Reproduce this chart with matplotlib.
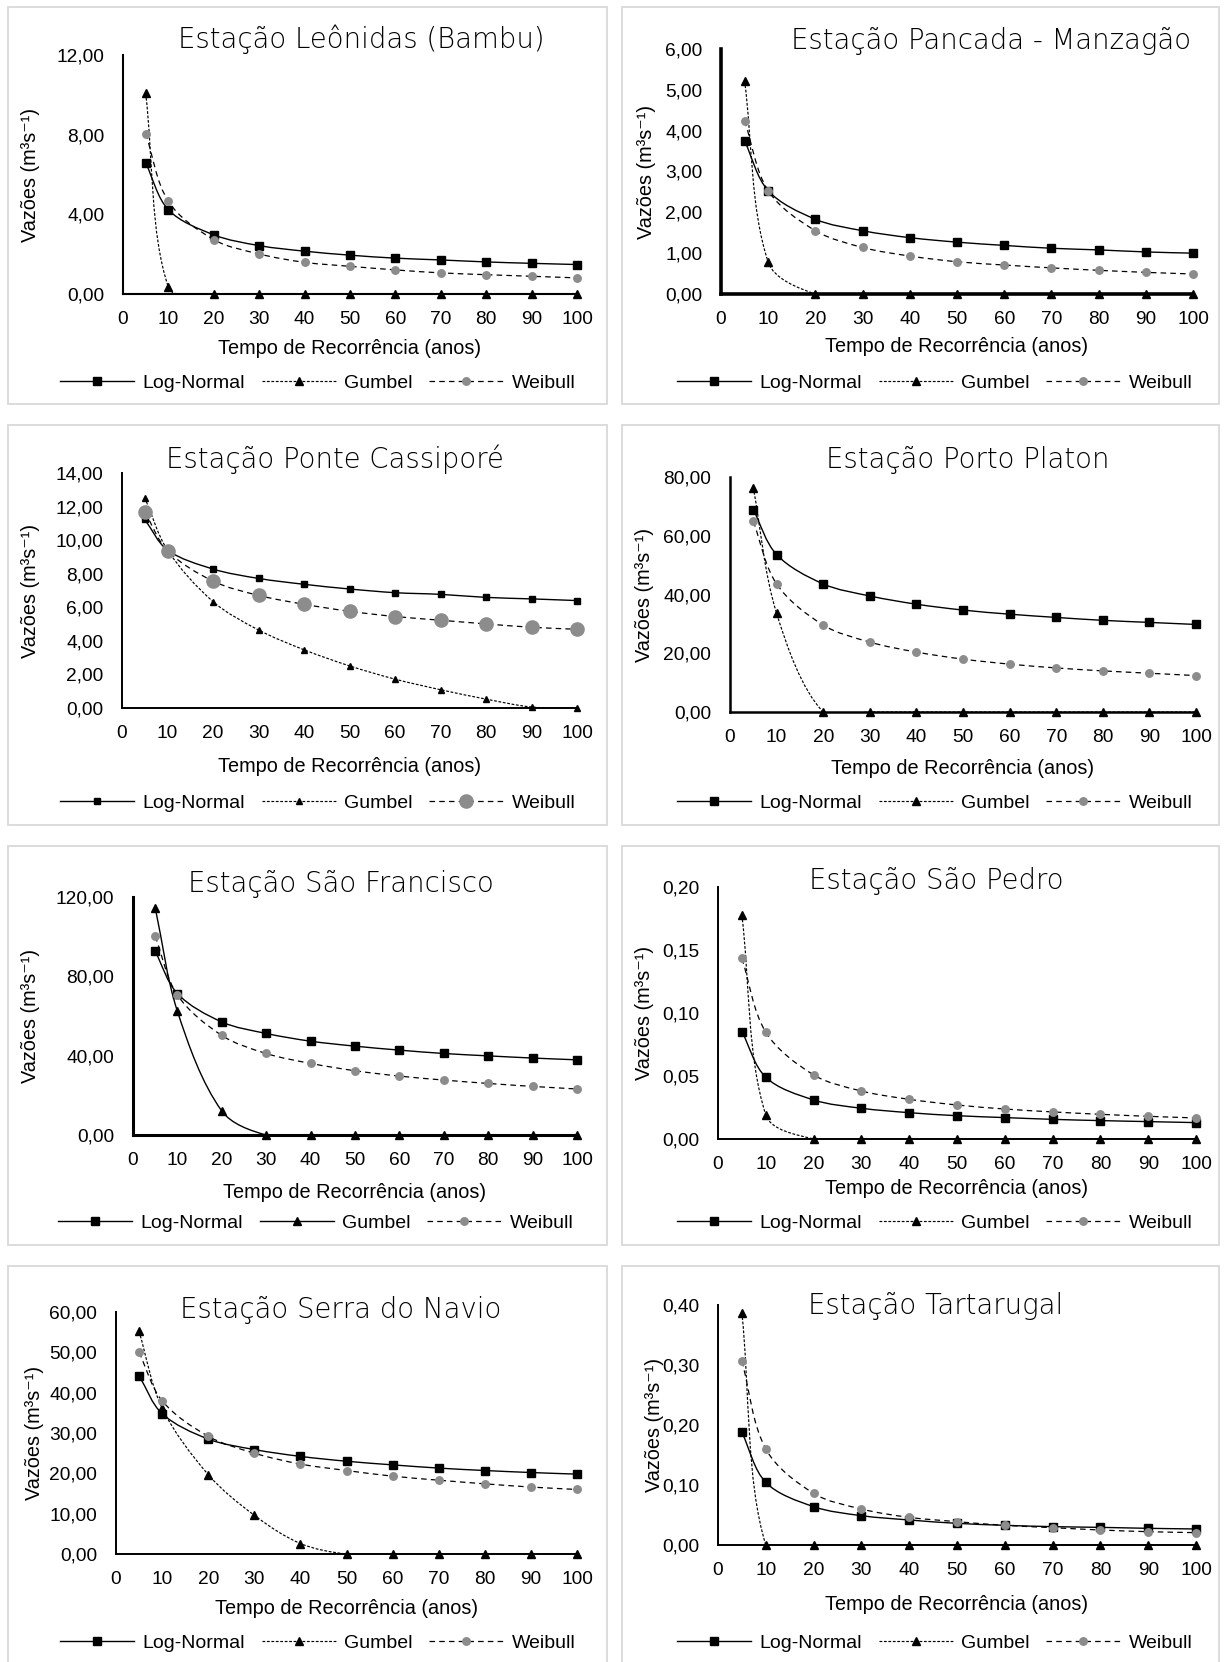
import numpy as np
import matplotlib
matplotlib.use("Agg")
import matplotlib.pyplot as plt
from matplotlib.path import Path
from matplotlib.patches import PathPatch, Rectangle
from matplotlib.lines import Line2D

plt.rcParams['lines.scale_dashes'] = False
SANS = ['Liberation Sans', 'DejaVu Sans']
TITLE_FONT = ['DejaVu Sans']

# ---------------- data ----------------
T = [5, 10, 20, 30, 40, 50, 60, 70, 80, 90, 100]

titles = ["Estação Leônidas (Bambu)", "Estação Pancada - Manzagão",
          "Estação Ponte Cassiporé", "Estação Porto Platon",
          "Estação São Francisco", "Estação São Pedro",
          "Estação Serra do Navio", "Estação Tartarugal"]

leonidas_ln = [6.58, 4.23, 2.97, 2.43, 2.15, 1.95, 1.80, 1.71, 1.61, 1.54, 1.48]
leonidas_gu = [10.07, 0.34, 0, 0, 0, 0, 0, 0, 0, 0, 0]
leonidas_we = [8.05, 4.65, 2.73, 2.01, 1.59, 1.39, 1.21, 1.06, 0.97, 0.89, 0.81]

pancada_ln = [3.75, 2.53, 1.83, 1.55, 1.38, 1.27, 1.19, 1.12, 1.08, 1.03, 1.00]
pancada_gu = [5.22, 0.78, 0, 0, 0, 0, 0, 0, 0, 0, 0]
pancada_we = [4.24, 2.53, 1.55, 1.14, 0.93, 0.79, 0.71, 0.64, 0.58, 0.53, 0.49]

cassipore_ln = [11.23, 9.41, 8.28, 7.72, 7.37, 7.09, 6.87, 6.77, 6.59, 6.50, 6.40]
cassipore_gu = [12.53, 9.41, 6.34, 4.65, 3.47, 2.51, 1.72, 1.09, 0.53, 0.06, 0.0]
cassipore_we = [11.68, 9.37, 7.56, 6.71, 6.18, 5.76, 5.45, 5.23, 5.01, 4.81, 4.69]

platon_ln = [68.9, 53.6, 43.6, 39.5, 36.7, 34.7, 33.3, 32.2, 31.2, 30.5, 29.8]
platon_gu = [76.4, 33.6, 0, 0, 0, 0, 0, 0, 0, 0, 0]
platon_we = [64.9, 43.6, 29.6, 23.8, 20.4, 18.0, 16.3, 15.0, 14.0, 13.2, 12.4]

francisco_ln = [92.6, 71.3, 57.0, 51.2, 47.3, 44.8, 42.8, 41.1, 39.9, 38.8, 37.9]
francisco_gu = [114.6, 62.4, 12.1, 0, 0, 0, 0, 0, 0, 0, 0]
francisco_we = [100.2, 70.6, 50.2, 41.1, 36.1, 32.4, 29.7, 27.7, 26.0, 24.5, 23.2]

pedro_ln = [0.0853, 0.0490, 0.0310, 0.0244, 0.0209, 0.0185, 0.0170, 0.0156, 0.0146, 0.0138, 0.0130]
pedro_gu = [0.1777, 0.0191, 0, 0, 0, 0, 0, 0, 0, 0, 0]
pedro_we = [0.1433, 0.0848, 0.0509, 0.0381, 0.0315, 0.0270, 0.0238, 0.0215, 0.0196, 0.0180, 0.0167]

navio_ln = [44.2, 34.8, 28.5, 25.9, 24.2, 23.0, 22.1, 21.3, 20.7, 20.2, 19.8]
navio_gu = [55.2, 36.2, 19.7, 9.6, 2.6, 0, 0, 0, 0, 0, 0]
navio_we = [50.0, 38.0, 29.2, 25.0, 22.3, 20.7, 19.3, 18.3, 17.4, 16.6, 16.0]

tarta_ln = [0.1878, 0.1044, 0.0639, 0.0489, 0.0417, 0.0361, 0.0328, 0.0306, 0.0294, 0.0278, 0.0267]
tarta_gu = [0.387, 0, 0, 0, 0, 0, 0, 0, 0, 0, 0]
tarta_we = [0.3067, 0.160, 0.0861, 0.060, 0.0461, 0.0389, 0.0328, 0.0289, 0.0250, 0.0222, 0.0206]

series = [(leonidas_ln, leonidas_gu, leonidas_we),
          (pancada_ln, pancada_gu, pancada_we),
          (cassipore_ln, cassipore_gu, cassipore_we),
          (platon_ln, platon_gu, platon_we),
          (francisco_ln, francisco_gu, francisco_we),
          (pedro_ln, pedro_gu, pedro_we),
          (navio_ln, navio_gu, navio_we),
          (tarta_ln, tarta_gu, tarta_we)]

y_max = [12, 6, 14, 80, 120, 0.20, 60, 0.40]
y_step = [4, 1, 2, 20, 40, 0.05, 10, 0.10]
legend_labels = ["Log-Normal", "Gumbel", "Weibull"]

# ---------------- layout (pixels) ----------------
W, H = 1225, 1662
# x0, x100, ytop, ybot of plot area
axes_px = [(123, 577, 55, 294), (721, 1193, 49, 294),
           (122, 577, 473, 708), (730, 1196, 477, 712),
           (133, 577, 897, 1135), (718, 1196, 887, 1139),
           (116, 577, 1312, 1554), (718, 1196, 1305, 1545)]
# title centre x, baseline y
title_px = [(361, 48), (991, 49), (335, 468), (968, 468),
            (341, 892), (936, 889), (341, 1318), (936, 1314)]
ylab_x = [30, 646, 31, 645, 31, 645, 34, 655]
xlab_y = [348, 347, 767, 768, 1193, 1188, 1608, 1605]
leg_px = [(318, 383), (935, 383), (318, 803), (935, 803),
          (316, 1223), (935, 1223), (318, 1643), (935, 1643)]
spine_lw = [1.5, 2.6, 1.4, 1.8, 2.2, 1.4, 1.4, 1.4]
boxes_x = [(8, 607), (622, 1219)]
boxes_y = [(7, 404), (425, 825), (846, 1245), (1266, 1700)]

FS_TICK = 13.8
FS = 14.3
FS_LEG = 14.0
GRAY = '#8c8c8c'

fig = plt.figure(figsize=(W / 100, H / 100), dpi=100)
fig.patch.set_facecolor('white')

# panel frames
for (by0, by1) in boxes_y:
    for (bx0, bx1) in boxes_x:
        fig.patches.append(Rectangle((bx0 / W, 1 - by1 / H), (bx1 - bx0) / W, (by1 - by0) / H,
                                     transform=fig.transFigure, fill=False,
                                     edgecolor='#d9d9d9', linewidth=1.3, zorder=0))


def smooth(ax, xs, ys, **kw):
    tr = ax.transData
    p = tr.transform(np.column_stack([xs, ys]).astype(float))
    n = len(p)
    verts = [p[0]]
    codes = [Path.MOVETO]
    for i in range(n - 1):
        p0 = p[i - 1] if i > 0 else p[i]
        p1, p2 = p[i], p[i + 1]
        p3 = p[i + 2] if i + 2 < n else p[i + 1]
        d01 = np.linalg.norm(p1 - p0)
        d12 = np.linalg.norm(p2 - p1)
        d23 = np.linalg.norm(p3 - p2)
        t1 = (p2 - p0) / (d01 + d12) if d01 + d12 > 0 else np.zeros(2)
        t2 = (p3 - p1) / (d12 + d23) if d12 + d23 > 0 else np.zeros(2)
        c1 = p1 + t1 * d12 / 3
        c2 = p2 - t2 * d12 / 3
        verts += [c1, c2, p2]
        codes += [Path.CURVE4] * 3
    verts = tr.inverted().transform(np.array(verts))
    patch = PathPatch(Path(verts, codes), fill=False, transform=ax.transData,
                      clip_on=True, **kw)
    ax.add_patch(patch)


for k in range(8):
    x0, x1, yt, yb = axes_px[k]
    ax = fig.add_axes([x0 / W, 1 - yb / H, (x1 - x0) / W, (yb - yt) / H])
    ax.set_xlim(0, 100)
    ax.set_ylim(0, y_max[k])
    ax.patch.set_alpha(0)
    for s in ['top', 'right']:
        ax.spines[s].set_visible(False)
    for s in ['left', 'bottom']:
        ax.spines[s].set_linewidth(spine_lw[k])
        ax.spines[s].set_color('black')
        ax.spines[s].set_zorder(1)
    ax.set_xticks(np.arange(0, 101, 10))
    ax.set_xticklabels([str(v) for v in range(0, 101, 10)])
    yt_vals = np.arange(0, y_max[k] + y_step[k] / 2, y_step[k])
    ax.set_yticks(yt_vals)
    ax.set_yticklabels([f"{v:.2f}".replace('.', ',') for v in yt_vals])
    ax.tick_params(axis='both', length=0, labelsize=FS_TICK, colors='black')
    ax.tick_params(axis='x', pad=12)
    ax.tick_params(axis='y', pad=13.5)
    for lab in ax.get_xticklabels() + ax.get_yticklabels():
        lab.set_family(SANS)

    ln, gu, we = series[k]
    big = (k == 2)
    ms_sq = 4.8 if big else 5.6
    ms_tr = 4.8 if big else 5.4
    ms_ci = 9.5 if big else 5.4
    gu_ls = '-' if k == 4 else (0, (2.0, 1.2))
    gu_lw = 1.0 if k == 4 else 0.85

    smooth(ax, T, ln, edgecolor='black', linewidth=1.0, zorder=3)
    smooth(ax, T, gu, edgecolor='black', linewidth=gu_lw, linestyle=gu_ls, zorder=4)
    smooth(ax, T, we, edgecolor='black', linewidth=0.9, linestyle=(0, (4, 3)), zorder=5)
    ax.plot(T, ln, ls='none', marker='s', ms=ms_sq, color='black', clip_on=False, zorder=6)
    ax.plot(T, gu, ls='none', marker='^', ms=ms_tr, color='black', clip_on=False, zorder=7)
    ax.plot(T, we, ls='none', marker='o', ms=ms_ci, color=GRAY, mec=GRAY, clip_on=False, zorder=8)

    # texts
    tx, ty = title_px[k]
    fig.text(tx / W, 1 - ty / H, titles[k], ha='center', va='baseline', fontsize=19.8,
             family=TITLE_FONT, fontweight='light', color='black')
    fig.text(ylab_x[k] / W, 1 - ((yt + yb) / 2) / H, "Vazões (m³s⁻¹)", rotation=90,
             ha='center', va='center', fontsize=FS, family=SANS)
    fig.text(((x0 + x1) / 2) / W, 1 - xlab_y[k] / H, "Tempo de Recorrência (anos)",
             ha='center', va='center', fontsize=FS, family=SANS)

    handles = [Line2D([], [], color='black', lw=1.0, marker='s', ms=ms_sq),
               Line2D([], [], color='black', lw=gu_lw, ls=gu_ls, marker='^', ms=ms_tr),
               Line2D([], [], color='black', lw=0.9, ls=(0, (4, 3)), marker='o', ms=ms_ci,
                      mfc=GRAY, mec=GRAY)]
    lx, ly = leg_px[k]
    fig.legend(handles, legend_labels, loc='center', bbox_to_anchor=(lx / W, 1 - ly / H),
               bbox_transform=fig.transFigure, ncol=3, frameon=False, numpoints=1,
               handlelength=3.8, handletextpad=0.45, columnspacing=0.85,
               prop={'family': SANS, 'size': FS_LEG}, borderaxespad=0, borderpad=0)

fig.savefig('out.png', dpi=100, facecolor='white')
